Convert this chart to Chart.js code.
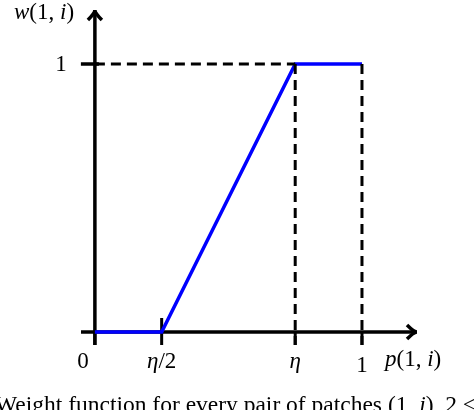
<!DOCTYPE html>
<html>
<head>
<meta charset="utf-8">
<script src="https://cdn.jsdelivr.net/npm/chart.js@4.4.0/dist/chart.umd.min.js"></script>
<style>
  body { margin: 0; background: #fff; }
  canvas { display: block; }
</style>
</head>
<body>
<canvas id="c" width="474" height="410"></canvas>
<script>
// weight function w(1,i) against p(1,i)
var xTicks = [0, 0.25, 0.75, 1]
var xTickLabels = ['0', 'η/2', 'η', '1']
var yTicks = [1]
var yTickLabels = ['1']
var weightX = [0, 0.25, 0.75, 1]
var weightY = [0, 0, 1, 1]
var eta = 0.75

var X_MIN = -0.052, X_MAX = 1.206
var Y_MIN = -0.0485, Y_MAX = 1.2015

var serif = '"Liberation Serif", "DejaVu Serif", serif'

function pts(xs, ys) {
    return xs.map(function (x, i) { return { x: x, y: ys[i] } })
}

// draw a run of [text, italic] pieces starting at x
function drawRuns(ctx, runs, x, y, size, align) {
    var total = 0
    runs.forEach(function (r) {
        ctx.font = (r[1] ? 'italic ' : '') + size + 'px ' + serif
        total += ctx.measureText(r[0]).width
    })
    if (align === 'center') x -= total / 2
    ctx.textAlign = 'left'
    runs.forEach(function (r) {
        ctx.font = (r[1] ? 'italic ' : '') + size + 'px ' + serif
        ctx.fillText(r[0], x, y)
        x += ctx.measureText(r[0]).width
    })
}

function arrow(ctx, x, y, dx, dy) {
    // latex style arrow tip pointing along (dx,dy)
    var len = 10, half = 7
    var px = -dy, py = dx
    ctx.beginPath()
    ctx.moveTo(x - dx * len + px * half, y - dy * len + py * half)
    ctx.quadraticCurveTo(x - dx * 3, y - dy * 3, x, y)
    ctx.quadraticCurveTo(x - dx * 3, y - dy * 3, x - dx * len - px * half, y - dy * len - py * half)
    ctx.stroke()
}

var axesPlugin = {
    id: 'axesPlugin',
    beforeDatasetsDraw: function (chart) {
        var ctx = chart.ctx
        var xs = chart.scales.x, ys = chart.scales.y
        var ox = xs.getPixelForValue(0), oy = ys.getPixelForValue(0)
        var area = chart.chartArea
        ctx.save()
        ctx.strokeStyle = '#000'
        ctx.lineWidth = 3.5
        ctx.lineCap = 'butt'
        // x axis
        ctx.beginPath()
        ctx.moveTo(area.left, oy)
        ctx.lineTo(area.right - 2, oy)
        ctx.stroke()
        // y axis
        ctx.beginPath()
        ctx.moveTo(ox, area.bottom)
        ctx.lineTo(ox, area.top + 2)
        ctx.stroke()
        arrow(ctx, area.right, oy, 1, 0)
        arrow(ctx, ox, area.top, 0, -1)
        // ticks on x
        ctx.lineWidth = 3
        xTicks.forEach(function (v, i) {
            var px = xs.getPixelForValue(v)
            ctx.beginPath()
            ctx.moveTo(px, i === 1 ? oy - 14 : oy)
            ctx.lineTo(px, oy + 13)
            ctx.stroke()
        })
        ctx.lineWidth = 3.5
        yTicks.forEach(function (v) {
            var py = ys.getPixelForValue(v)
            ctx.beginPath()
            ctx.moveTo(ox - 14, py)
            ctx.lineTo(ox + 4, py)
            ctx.stroke()
        })
        ctx.restore()
    },
    afterDraw: function (chart) {
        var ctx = chart.ctx
        var xs = chart.scales.x, ys = chart.scales.y
        var ox = xs.getPixelForValue(0), oy = ys.getPixelForValue(0)
        ctx.save()
        ctx.fillStyle = '#000'
        ctx.textBaseline = 'middle'
        xTicks.forEach(function (v, i) {
            var px = xs.getPixelForValue(v)
            var lab = xTickLabels[i]
            var runs = lab.split('').map(function (ch) { return [ch, ch === 'η'] })
            var dx = i === 0 ? -12 : 0
            var dy = i === 3 ? 4 : 0
            drawRuns(ctx, runs, px + dx, oy + 30 + dy, 23, 'center')
        })
        yTicks.forEach(function (v, i) {
            var py = ys.getPixelForValue(v)
            drawRuns(ctx, [[yTickLabels[i], false]], ox - 34, py + 1, 23, 'center')
        })
        // axis titles
        drawRuns(ctx, [['p', true], ['(1, ', false], ['i', true], [')', false]], 385, oy + 28, 23, 'left')
        drawRuns(ctx, [['w', true], ['(1, ', false], ['i', true], [')', false]], 14, 13, 23, 'left')
        // caption (cut by the bottom edge)
        ctx.textBaseline = 'top'
        drawRuns(ctx, [['Weight function for every pair of patches (1, ', false], ['i', true], ['), 2 ≤', false]], -5, 394, 23.5, 'left')
        ctx.restore()
    }
}

var dash = [10, 6]

new Chart(document.getElementById('c'), {
    type: 'scatter',
    data: {
        datasets: [
            {
                data: pts([0, eta], [1, 1]),
                showLine: true, borderColor: '#000', borderWidth: 3, borderDash: dash,
                pointRadius: 0, clip: false
            },
            {
                data: pts([eta, eta], [1, Y_MIN]),
                showLine: true, borderColor: '#000', borderWidth: 3, borderDash: dash,
                pointRadius: 0, clip: false
            },
            {
                data: pts([1, 1], [1, Y_MIN]),
                showLine: true, borderColor: '#000', borderWidth: 3, borderDash: dash,
                pointRadius: 0, clip: false
            },
            {
                data: pts(weightX, weightY),
                showLine: true, borderColor: '#0000ff', borderWidth: 3.5,
                pointRadius: 0, tension: 0, clip: false
            }
        ]
    },
    options: {
        responsive: false,
        animation: false,
        devicePixelRatio: 1,
        layout: { padding: { left: 81, right: 57, top: 10, bottom: 65 } },
        plugins: { legend: { display: false }, tooltip: { enabled: false } },
        scales: {
            x: { type: 'linear', min: X_MIN, max: X_MAX, display: false },
            y: { type: 'linear', min: Y_MIN, max: Y_MAX, display: false }
        }
    },
    plugins: [axesPlugin]
})
</script>
</body>
</html>
